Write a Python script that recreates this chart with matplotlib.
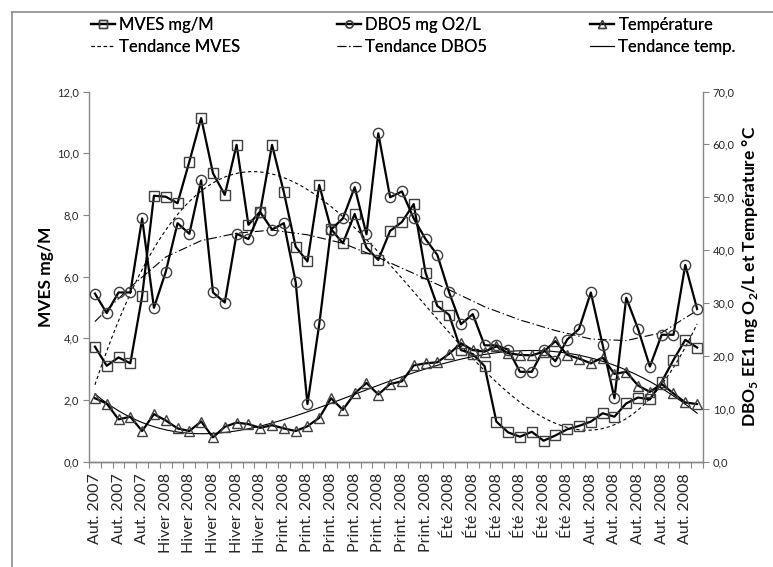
import numpy as np
import matplotlib
matplotlib.use("Agg")
import matplotlib.pyplot as plt
from matplotlib.lines import Line2D
from matplotlib.ticker import FuncFormatter, MultipleLocator

plt.rcParams['font.family'] = ['Lato', 'DejaVu Sans']
plt.rcParams['mathtext.fontset'] = 'custom'
plt.rcParams['mathtext.rm'] = 'Lato'
plt.rcParams['mathtext.bf'] = 'Lato:bold'

# ---- data ----
season_labels = (["Aut. 2007"] * 3 + ["Hiver 2008"] * 5 + ["Print. 2008"] * 7
                 + ["Été 2008"] * 6 + ["Aut. 2008"] * 5)

mves = [3.73, 3.11, 3.38, 3.19, 5.37, 8.62, 8.59, 8.38, 9.73, 11.14,
        9.35, 8.65, 10.27, 7.68, 8.11, 10.27, 8.74, 6.97, 6.49, 8.97,
        7.54, 7.08, 8.03, 6.94, 6.54, 7.48, 7.77, 8.35, 6.13, 5.05,
        4.76, 3.62, 3.49, 3.10, 1.30, 0.95, 0.81, 0.97, 0.68, 0.85,
        1.05, 1.16, 1.30, 1.57, 1.46, 1.89, 2.08, 2.02, 2.59, 3.30,
        3.95, 3.70]

dbo5 = [31.8, 28.1, 32.0, 32.0, 46.0, 29.1, 35.9, 45.1, 43.1, 53.2,
        32.0, 30.1, 43.1, 42.1, 47.2, 43.9, 45.1, 34.0, 10.9, 26.0,
        43.9, 46.0, 51.9, 43.0, 62.1, 50.0, 51.1, 46.0, 42.1, 39.1,
        32.0, 26.0, 27.9, 22.0, 22.0, 21.2, 17.0, 17.0, 21.2, 19.0,
        23.1, 25.1, 32.0, 22.1, 12.0, 31.0, 25.1, 18.0, 24.0, 24.0,
        37.2, 28.9]

temperature = [12.0, 11.0, 8.0, 8.5, 5.8, 9.0, 7.8, 6.3, 5.8, 7.6,
               4.6, 6.6, 7.4, 7.1, 6.4, 6.9, 6.3, 5.8, 6.7, 8.3,
               12.0, 9.8, 12.9, 14.9, 12.7, 14.7, 15.2, 18.2, 18.6, 18.8,
               20.4, 22.4, 21.1, 20.8, 21.8, 20.5, 20.2, 20.1, 20.8, 22.8,
               20.2, 19.5, 18.6, 19.7, 16.6, 17.0, 14.4, 13.2, 14.7, 12.9,
               11.2, 10.9]

# DBO5 trend line, every third sample
dbo5_trend_idx = [0, 3, 6, 9, 12, 15, 18, 21, 24, 27, 30, 33, 36, 39, 42, 45, 48, 51]
dbo5_trend = [26.5, 33.0, 38.7, 41.8, 43.2, 43.8, 42.9, 41.3, 38.6, 35.6,
              32.5, 29.3, 26.8, 24.8, 23.2, 22.9, 24.4, 28.6]

trend_degree_mves = 4
trend_degree_temp = 4

# ---- figure ----
fig = plt.figure(figsize=(7.73, 5.67), dpi=100)
ax = fig.add_axes([89 / 773, 1 - 461.7 / 567, (703 - 89) / 773, (461.7 - 91.5) / 567])
ax2 = ax.twinx()

x = np.arange(len(mves))
xs = np.linspace(0, len(mves) - 1, 400)

def trend(vals, deg):
    p = np.polynomial.Polynomial.fit(x, vals, deg)
    return p(xs)

edge = '#404040'
ms = 7.4
lw = 1.6
twl = 0.8

l_mves, = ax.plot(x, mves, color='black', lw=lw, marker='s', ms=ms,
                  mfc='none', mec=edge, mew=1.0, zorder=3)
t_mves, = ax.plot(xs, trend(mves, trend_degree_mves), color='black', lw=twl,
                  ls=(0, (3, 2.5)), zorder=2)

l_dbo, = ax2.plot(x, dbo5, color='black', lw=lw, marker='o', ms=ms,
                  mfc='none', mec=edge, mew=1.0, zorder=3)
t_dbo, = ax2.plot(dbo5_trend_idx, dbo5_trend, color='black', lw=twl,
                  ls=(0, (8, 2.5, 1.2, 2.5)), zorder=2)

l_temp, = ax2.plot(x, temperature, color='black', lw=lw, marker='^', ms=ms,
                   mfc='none', mec=edge, mew=1.0, zorder=3)
t_temp, = ax2.plot(xs, trend(temperature, trend_degree_temp), color='black',
                   lw=twl, ls='-', zorder=2)

# ---- axes styling ----
axis_col = '#868686'
ax.set_xlim(-0.5, len(mves) - 0.5)
ax.set_ylim(0, 12)
ax2.set_ylim(0, 70)
for a in (ax, ax2):
    a.spines['top'].set_visible(False)
    for s in ('left', 'right', 'bottom'):
        a.spines[s].set_color(axis_col)
        a.spines[s].set_linewidth(1.0)
ax.spines['right'].set_visible(False)
ax2.spines['left'].set_visible(False)

comma = FuncFormatter(lambda v, p: f"{v:.1f}".replace('.', ','))
ax.yaxis.set_major_locator(MultipleLocator(2))
ax2.yaxis.set_major_locator(MultipleLocator(10))
ax.yaxis.set_major_formatter(comma)
ax2.yaxis.set_major_formatter(comma)
for a in (ax, ax2):
    a.tick_params(axis='y', labelsize=8, labelcolor='#262626', length=4,
                  width=0.8, direction='out', pad=3, color=axis_col)

ax.set_xticks(np.arange(-0.5, len(mves) + 0.5, 1), minor=True)
ax.set_xticks(np.arange(0, len(mves), 2))
ax.set_xticklabels(season_labels, rotation=90, fontsize=11.5, color='#262626')
ax.tick_params(axis='x', which='major', length=0, pad=8)
ax.tick_params(axis='x', which='minor', length=4, width=0.8, color=axis_col,
               direction='out')

ax.set_ylabel("MVES mg/M", fontsize=12.5, fontweight='bold', labelpad=2)
ax2.set_ylabel(r"DBO$_\mathbf{5}$ EE1 mg O$_\mathbf{2}$/L et Température °C",
               fontsize=12.5, fontweight='bold', labelpad=4)

# ---- legend: three columns, placed like the original ----
columns = [([l_mves, t_mves], ["MVES mg/M", "Tendance MVES"], 76),
           ([l_dbo, t_dbo], ["DBO5 mg O2/L", "Tendance DBO5"], 322),
           ([l_temp, t_temp], ["Température", "Tendance temp."], 575)]
for hs, ls, xpix in columns:
    lg = fig.legend(hs, ls, loc='upper left',
                    bbox_to_anchor=(xpix / 773, 1 - 2 / 567), frameon=False,
                    fontsize=12, handlelength=1.45, handletextpad=0.25,
                    labelspacing=0.35, markerscale=0.7)
    fig.add_artist(lg)

# ---- chart border ----
fig.add_artist(Line2D([12 / 773, 12 / 773], [0, 1 - 11.5 / 567],
                      transform=fig.transFigure, color='#8c8c8c', lw=1.2))
fig.add_artist(Line2D([12 / 773, 1], [1 - 11.5 / 567, 1 - 11.5 / 567],
                      transform=fig.transFigure, color='#8c8c8c', lw=1.2))

fig.savefig("out.png", dpi=100)
